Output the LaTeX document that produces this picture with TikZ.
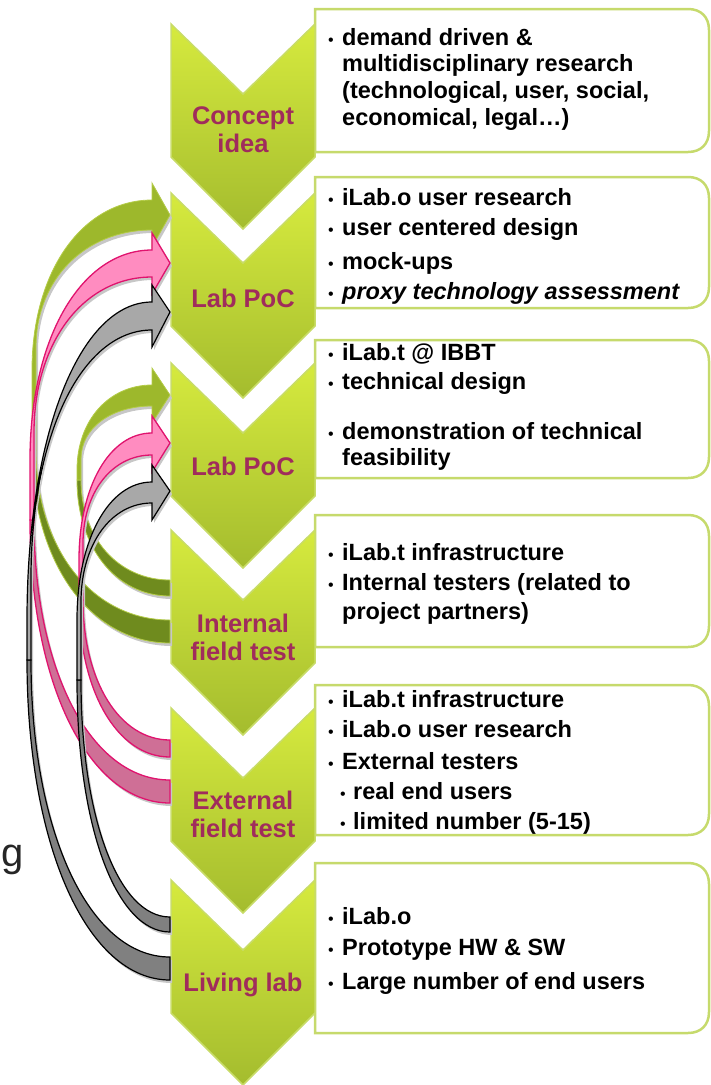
\documentclass[tikz,border=0pt]{standalone}
\usepackage{fontspec}
\setmainfont{Liberation Sans}
\definecolor{chevtop}{HTML}{D6EA3E}
\definecolor{chevbot}{HTML}{A4BC2E}
\definecolor{chevline}{HTML}{C8DC68}
\definecolor{boxline}{HTML}{C6DA6C}
\definecolor{labelc}{HTML}{A02C5C}
\definecolor{glt}{HTML}{9DB82C}
\definecolor{gdk}{HTML}{6F8B1E}
\definecolor{gln}{HTML}{B4CC48}
\definecolor{plt}{HTML}{FF8CC0}
\definecolor{pdk}{HTML}{CF6F96}
\definecolor{pln}{HTML}{E0136E}
\definecolor{klt}{HTML}{A8A8A8}
\definecolor{kdk}{HTML}{808080}
\tikzset{
 chev/.style={draw=chevline, line width=1.5pt, top color=chevtop, bottom color=chevbot},
 tboxst/.style={draw=boxline, line width=2.5pt, fill=white},
 lbl/.style={font=\fontsize{25.5}{28}\selectfont\bfseries, text=labelc, align=center, inner sep=0},
 txt/.style={font=\fontsize{23.5}{28}\selectfont\bfseries, anchor=base west, inner sep=0},
 shad/.style={fill=black!22, draw=none, shift={(2,3)}},
 gdark/.style={fill=gdk, draw=gln, line width=0.8pt},
 glight/.style={fill=glt, draw=gln, line width=0.8pt},
 pdark/.style={fill=pdk, draw=pln, line width=1.3pt},
 plight/.style={fill=plt, draw=pln, line width=1.3pt},
 kdark/.style={fill=kdk, draw=black, line width=1.2pt},
 klight/.style={fill=klt, draw=black, line width=1.2pt},
}
% quarter-ellipse pieces
\newcommand\hv[4]{.. controls ({#1+0.58*(#3-#1)},{#2}) and ({#3},{#4+0.58*(#2-#4)}) .. ({#3},{#4})}
\newcommand\vh[4]{.. controls ({#1},{#2+0.58*(#4-#2)}) and ({#3+0.58*(#1-#3)},{#4}) .. ({#3},{#4})}
% curved arrow: #1 style prefix, #2 leftmost x, #3 top of straight part, #4 bottom of straight part,
% #5 tail upper y, #6 tail lower y, #7 shaft upper y at head, #8 shaft lower y at head, #9 tip y
\newcommand\carrow[9]{%
 \path[shad] ({#2},{#4}) \vh{#2}{#4}{170}{#6} -- (170,{#5}) \hv{170}{#5}{(#2+4)}{#4} -- cycle;
 \path[shad] ({#2},{#4}) -- ({#2},{#3}) \vh{#2}{#3}{152}{#7} -- (152,{#7-17}) -- (170,{#9}) -- (152,{#8+17}) -- (152,{#8}) \hv{152}{#8}{(#2+4)}{(#3-0.13*(#3-#7))} -- ({#2+4},{#4}) -- cycle;
 \path[#1dark] ({#2},{#4}) \vh{#2}{#4}{170}{#6} -- (170,{#5}) \hv{170}{#5}{(#2+4)}{#4} -- cycle;
 \path[#1light] ({#2},{#4}) -- ({#2},{#3}) \vh{#2}{#3}{152}{#7} -- (152,{#7-17}) -- (170,{#9}) -- (152,{#8+17}) -- (152,{#8}) \hv{152}{#8}{(#2+4)}{(#3-0.13*(#3-#7))} -- ({#2+4},{#4}) -- cycle;
}
\newcommand\chevron[1]{\path[chev] (171,#1) -- (243,{#1+70}) -- (315,#1) -- (315,{#1+133}) -- (243,{#1+205}) -- (171,{#1+133}) -- cycle;}
\newcommand\tbox[2]{\path[tboxst] (315,#2) -- (315,#1) -- (688,#1) .. controls (701,#1) and (709,{#1+8}) .. (709,{#1+21}) -- (709,{#2-21}) .. controls (709,{#2-8}) and (701,#2) .. (688,#2) -- cycle;}
\newcommand\bt{\makebox[14pt][l]{\fontsize{16}{16}\selectfont\mdseries\upshape •}}
\newcommand\sbt{\makebox[13pt][l]{\fontsize{16}{16}\selectfont\mdseries\upshape •}}
\begin{document}
\begin{tikzpicture}[x=1pt,y=-1pt]
\useasboundingbox (0,0) rectangle (711,1085);
% text boxes
\tbox{9}{152}
\tbox{177}{308}
\tbox{340}{478}
\tbox{515}{647}
\tbox{685}{835}
\tbox{863}{1033}
% chevrons
\chevron{24}
\chevron{193}
\chevron{363}
\chevron{530}
\chevron{708}
\chevron{880}
% chevron labels
\node[lbl] (n1) at (243,130) {Concept\\idea};
\node[lbl] (n2) at (243,298) {Lab PoC};
\node[lbl] (n3) at (243,466) {Lab PoC};
\node[lbl] (n4) at (243,637) {Internal\\field test};
\node[lbl] (n5) at (243,814) {External\\field test};
\node[lbl] (n6) at (243,985) {Living lab};
% feedback arrows
\carrow{g}{32}{370}{450}{620}{643}{200}{230}{215}
\carrow{g}{77}{470}{480}{580}{596}{385}{406}{395}
\carrow{p}{30}{460}{520}{780}{803}{250}{277}{263}
\carrow{p}{79}{560}{600}{740}{757}{433}{455}{443}
\carrow{k}{27}{620}{660}{957}{980}{302}{330}{312}
\carrow{k}{77}{620}{680}{917}{932}{482}{503}{491}
% box texts
\node[txt] (t1a) at (328,45) {\bt demand driven \&};
\node[txt] (t1b) at (342,71) {multidisciplinary research};
\node[txt] (t1c) at (342,98) {(technological, user, social,};
\node[txt] (t1d) at (342,125) {economical, legal…)};
\node[txt] (t2a) at (328,205) {\bt iLab.o user research};
\node[txt] (t2b) at (328,235) {\bt user centered design};
\node[txt] (t2c) at (328,269) {\bt mock-ups};
\node[txt] (t2d) at (328,299) {\bt\itshape proxy technology assessment};
\node[txt] (t3a) at (328,360) {\bt iLab.t @ IBBT};
\node[txt] (t3b) at (328,389) {\bt technical design};
\node[txt] (t3c) at (328,439) {\bt demonstration of technical};
\node[txt] (t3d) at (342,465) {feasibility};
\node[txt] (t4a) at (328,560) {\bt iLab.t infrastructure};
\node[txt] (t4b) at (328,590) {\bt Internal testers (related to};
\node[txt] (t4c) at (342,619) {project partners)};
\node[txt] (t5a) at (328,707) {\bt iLab.t infrastructure};
\node[txt] (t5b) at (328,737) {\bt iLab.o user research};
\node[txt] (t5c) at (328,769) {\bt External testers};
\node[txt] (t5d) at (340,799) {\sbt real end users};
\node[txt] (t5e) at (340,829) {\sbt limited number (5-15)};
\node[txt] (t6a) at (328,924) {\bt iLab.o};
\node[txt] (t6b) at (328,955) {\bt Prototype HW \& SW};
\node[txt] (t6c) at (328,989) {\bt Large number of end users};
% stray letter at left
\node[font=\fontsize{40}{40}\selectfont, text=black!85, anchor=base west, inner sep=0] (gfrag) at (1,866) {g};
\end{tikzpicture}
\end{document}
